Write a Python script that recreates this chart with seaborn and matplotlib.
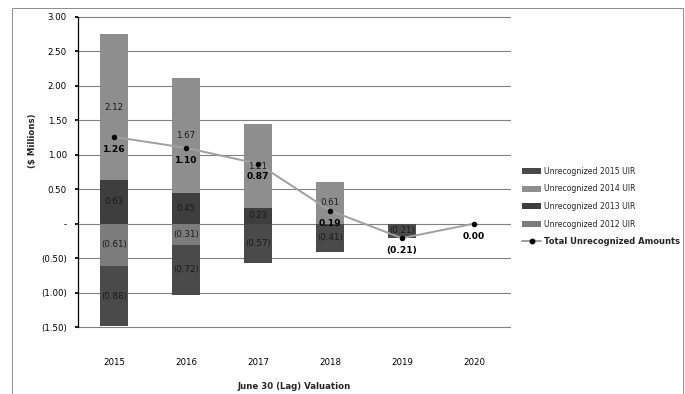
import numpy as np
import pandas as pd
import matplotlib
matplotlib.use("Agg")
import matplotlib.pyplot as plt
from matplotlib.patches import Patch, Rectangle
from matplotlib.lines import Line2D
import seaborn as sns

# Valuation years and unrecognized amounts ($ millions)
years = ["2015", "2016", "2017", "2018", "2019", "2020"]
uir_2012 = [-0.61, -0.31, 0.00, 0.00, 0.00, 0.00]
uir_2013 = [0.63, 0.45, 0.23, 0.00, 0.00, 0.00]
uir_2014 = [2.12, 1.67, 1.21, 0.61, 0.00, 0.00]
uir_2015 = [-0.88, -0.72, -0.57, -0.41, -0.21, 0.00]
total_unrecognized = [1.26, 1.10, 0.87, 0.19, -0.21, 0.00]

series_names = ["Unrecognized 2012 UIR", "Unrecognized 2013 UIR",
                "Unrecognized 2014 UIR", "Unrecognized 2015 UIR"]
series_values = [uir_2012, uir_2013, uir_2014, uir_2015]
series_colors = ["#7c7c7c", "#3e3e3e", "#8e8e8e", "#4a4a4a"]

sns.set_theme(style="white")
plt.rcParams["font.family"] = ["DejaVu Sans"]
FS = 6.2

fig = plt.figure(figsize=(6.85, 3.94), dpi=100)
ax = fig.add_axes([78 / 685, 1 - 327 / 394, 432 / 685, 310 / 394])

vals = np.array(series_values, dtype=float)
pos = np.clip(vals, 0, None)
neg = np.clip(vals, None, 0)
pos_cum = np.cumsum(pos, axis=0)
neg_cum = np.cumsum(neg, axis=0)
pos_base = pos_cum - pos
neg_base = neg_cum - neg

# Stacked bars: draw cumulative totals from the outermost layer inward
bar_w = 0.39
for i in reversed(range(len(series_names))):
    for cum in (pos_cum[i], neg_cum[i]):
        df = pd.DataFrame({"year": years, "value": cum})
        sns.barplot(data=df, x="year", y="value", color=series_colors[i],
                    saturation=1, width=bar_w, ax=ax, linewidth=0,
                    errorbar=None, zorder=2)

# Segment value labels
def fmt(v):
    return f"({abs(v):.2f})" if v < 0 else f"{v:.2f}"

for i in range(len(series_names)):
    for j, v in enumerate(vals[i]):
        if v == 0:
            continue
        base = pos_base[i, j] if v > 0 else neg_base[i, j]
        ax.text(j, base + v / 2, fmt(v), ha="center", va="center",
                fontsize=FS, color="#1a1a1a", zorder=5)

# Total line
xpos = np.arange(len(years))
sns.lineplot(x=xpos, y=total_unrecognized, ax=ax, color="#a0a0a0",
             linewidth=1.4, marker="o", markersize=3.2,
             markerfacecolor="black", markeredgecolor="black", zorder=4)
for j, v in enumerate(total_unrecognized):
    ax.text(j, v - 0.12, fmt(v), ha="center", va="top", fontsize=6.6,
            fontweight="bold", color="black", zorder=6)

ax.set_xlim(-0.5, len(years) - 0.5)
ax.set_ylim(-1.5, 3.0)
ax.set_yticks(np.arange(-1.5, 3.01, 0.5))

def yfmt(v, _):
    if abs(v) < 1e-9:
        return "-"
    return f"({abs(v):.2f})" if v < 0 else f"{v:.2f}"

ax.yaxis.set_major_formatter(matplotlib.ticker.FuncFormatter(yfmt))
ax.grid(axis="y", color="#808080", linewidth=0.8, zorder=0)
ax.grid(axis="x", visible=False)
ax.set_axisbelow(True)
for gl in ax.get_ygridlines():
    gl.set_clip_on(False)
for s in ["top", "right", "bottom"]:
    ax.spines[s].set_visible(False)
ax.spines["left"].set_color("black")
ax.spines["left"].set_linewidth(0.9)
ax.tick_params(axis="y", length=2, pad=6, labelsize=FS, colors="black",
               left=True, direction="out")
ax.tick_params(axis="x", length=0, pad=22, labelsize=FS, colors="black")
ax.set_xticks(xpos)
ax.set_xticklabels(years)

ax.set_xlabel("June 30 (Lag) Valuation", fontsize=FS, fontweight="bold",
              labelpad=11)
ax.set_ylabel("($ Millions)", fontsize=FS, fontweight="bold")
ax.yaxis.set_label_coords(-0.095, 0.60)

# Legend
handles = [Patch(facecolor=series_colors[i], edgecolor="none",
                 label=series_names[i]) for i in (3, 2, 1, 0)]
handles.append(Line2D([0], [0], color="#a0a0a0", linewidth=1.4, marker="o",
                      markersize=3.2, markerfacecolor="black",
                      markeredgecolor="black",
                      label="Total Unrecognized Amounts"))
leg = fig.legend(handles=handles, loc="upper left",
                 bbox_to_anchor=(518 / 685, 1 - 163 / 394), frameon=False,
                 fontsize=5.6, handlelength=2.5, handleheight=0.8,
                 handletextpad=0.3, labelspacing=1.1, borderpad=0)
leg.get_texts()[-1].set_fontweight("bold")
leg.get_texts()[-1].set_fontsize(6.0)

# Chart border
fig.add_artist(Rectangle((12 / 685, -0.02), 671 / 685, 1 - 8 / 394 + 0.02,
                         transform=fig.transFigure, fill=False,
                         edgecolor="#8c8c8c", linewidth=0.7))

fig.savefig("out.png", dpi=100)
